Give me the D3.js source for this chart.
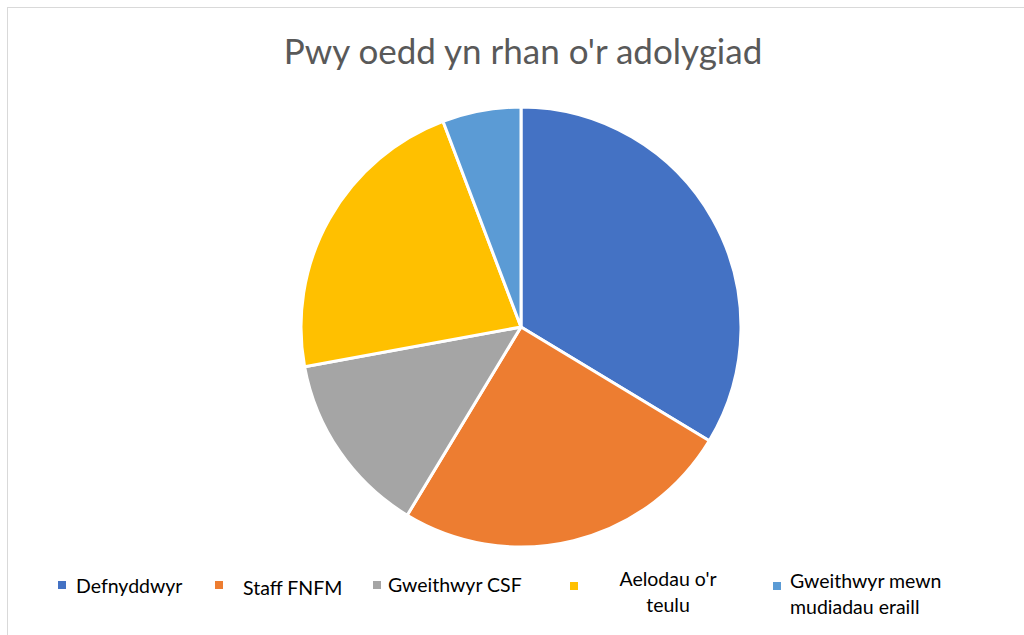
<!DOCTYPE html>
<html>
<head>
<meta charset="utf-8">
<script src="https://cdn.jsdelivr.net/npm/d3@7"></script>
<style>
  body { margin: 0; background: #fff; }
  svg { display: block; }
</style>
</head>
<body>
<div id="chart"></div>
<script>
// data
const categories = ["Defnyddwyr", "Staff FNFM", "Gweithwyr CSF", "Aelodau o'r teulu", "Gweithwyr mewn mudiadau eraill"];
const values = [35, 26, 14, 23, 6];
const colours = ["#4472c4", "#ed7d31", "#a5a5a5", "#ffc000", "#5b9bd5"];
// legend lines (wrapped like the original)
const legendLines = [["Defnyddwyr"], ["Staff FNFM"], ["Gweithwyr CSF"], ["Aelodau o'r", "teulu"], ["Gweithwyr mewn", "mudiadau eraill"]];

const width = 1024, height = 635;

const svg = d3.select("#chart").append("svg")
  .attr("width", width)
  .attr("height", height);

// chart frame
svg.append("rect")
  .attr("x", 7.5).attr("y", 7.5)
  .attr("width", width + 20).attr("height", height + 20)
  .attr("fill", "#fff")
  .attr("stroke", "#d9d9d9");

// title
svg.append("text")
  .attr("x", 523).attr("y", 64)
  .attr("text-anchor", "middle")
  .attr("font-family", "Lato, 'Open Sans', sans-serif")
  .attr("font-size", "35px")
  .attr("fill", "#595959")
  .text("Pwy oedd yn rhan o'r adolygiad");

// pie
const cx = 521, cy = 327, r = 220;
const pie = d3.pie().sort(null).value(d => d);
const arc = d3.arc().innerRadius(0).outerRadius(r);

const g = svg.append("g").attr("transform", "translate(" + cx + "," + cy + ")");
g.selectAll("path")
  .data(pie(values))
  .enter()
  .append("path")
  .attr("d", arc)
  .attr("fill", (d, i) => colours[i])
  .attr("stroke", "#fff")
  .attr("stroke-width", 3)
  .attr("stroke-linejoin", "round");

// legend
const legendX = d3.scaleOrdinal().domain(categories).range([58, 215, 373, 570, 773]);
const textX = [76, 243, 388, 668, 790];
const anchors = ["start", "start", "start", "middle", "start"];
const firstY = [593, 595, 592, 586, 588];

const leg = svg.append("g").attr("font-family", "Lato, 'Open Sans', sans-serif").attr("font-size", "19.5px");
categories.forEach(function(c, i) {
  leg.append("rect")
    .attr("x", legendX(c)).attr("y", i == 3 || i == 4 ? 582 : 581)
    .attr("width", 8).attr("height", 8)
    .attr("fill", colours[i]);
  const t = leg.append("text")
    .attr("x", textX[i]).attr("y", firstY[i])
    .attr("text-anchor", anchors[i])
    .attr("fill", "#000");
  legendLines[i].forEach(function(line, j) {
    t.append("tspan").attr("x", textX[i]).attr("dy", j == 0 ? 0 : 26).text(line);
  });
});
</script>
</body>
</html>
